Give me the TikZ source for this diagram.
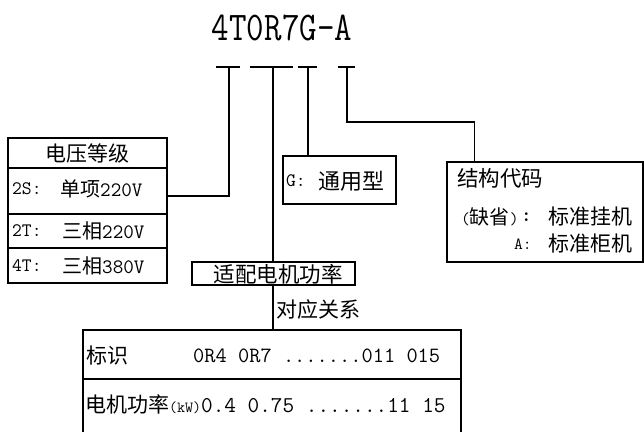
\documentclass[tikz,border=0pt]{standalone}
\usepackage{fontspec}
\newfontfamily\cjkfont{Noto Sans CJK SC}
\newcommand\zh[1]{\cjkfont\fontsize{#1}{#1}\selectfont}
\newcommand\mn[1]{\ttfamily\fontsize{#1}{#1}\selectfont}
\begin{document}
\begin{tikzpicture}[x=1pt,y=-1pt,
  box/.style={draw, line width=1.3pt, inner sep=0pt},
  txt/.style={inner sep=0pt, anchor=west},
  link/.style={line width=1.3pt}]
\useasboundingbox (0,0) rectangle (644,431);
\clip (0,0) rectangle (644,431);

% title and tick marks
\node[inner sep=0pt] (title) at (282,28) {\scalebox{1}[1.2]{\mn{34}4T0R7G-A}};
\coordinate (t1) at (229,67);
\coordinate (t2) at (273,67);
\coordinate (t3) at (308,67);
\coordinate (t4) at (347,67);
\draw[link] ([xshift=-13pt]t1) -- ([xshift=11pt]t1);
\draw[link] ([xshift=-23pt]t2) -- ([xshift=20pt]t2);
\draw[link] ([xshift=-10pt]t3) -- ([xshift=9pt]t3);
\draw[link] ([xshift=-9pt]t4) -- ([xshift=8pt]t4);

% voltage box
\node[box, minimum width=159pt, minimum height=30pt] (vtitle) at (87.5,153) {};
\node[box, minimum width=159pt, minimum height=46pt] (v2s) at (87.5,191) {};
\node[box, minimum width=159pt, minimum height=34pt] (v2t) at (87.5,231) {};
\node[box, minimum width=159pt, minimum height=35pt] (v4t) at (87.5,265.5) {};
\node[inner sep=0pt] (vtt) at (vtitle) {\zh{21}电压等级};
\node[txt] (l2s) at (12,189) {\mn{19}2S:};
\node[txt] (r2s) at (60,189) {\zh{20}单项\mn{20.5}220V};
\node[txt] (l2t) at (12,231) {\mn{19}2T:};
\node[txt] (r2t) at (62,231) {\zh{20}三相\mn{20.5}220V};
\node[txt] (l4t) at (12,266) {\mn{19}4T:};
\node[txt] (r4t) at (62,266) {\zh{20}三相\mn{20.5}380V};

% G box
\node[box, minimum width=113pt, minimum height=48pt] (gbox) at (339.5,180) {};
\node[txt] (gl) at (286,181) {\mn{19}G:};
\node[txt] (gr) at (318,181) {\zh{22}通用型};

% structure box
\node[box, minimum width=196pt, minimum height=100pt] (sbox) at (545,212) {};
\node[txt] (s1) at (457,178) {\zh{21.5}结构代码};
\node[txt] (s2) at (461,217) {\mn{17}(\zh{20}缺省\mn{17})};
\node[txt] (s2c) at (521,217) {\ttfamily\bfseries\fontsize{20}{20}\selectfont :};
\node[txt] (s2r) at (548,217) {\zh{21}标准挂机};
\node[txt] (s3) at (514,244) {\mn{17}A:};
\node[txt] (s3r) at (548,244) {\zh{21}标准柜机};

% motor power box
\node[box, minimum width=163pt, minimum height=23pt] (pbox) at (273.5,273.5) {};
\node[inner sep=0pt] (pt) at (278,274) {\zh{21.5}适配电机功率};
\node[txt] (rel) at (276,310) {\zh{21}对应关系};

% table
\node[box, minimum width=378pt, minimum height=49pt] (trow1) at (272,354.5) {};
\node[box, minimum width=378pt, minimum height=61pt] (trow2) at (272,409.5) {};
\node[txt] (a1) at (86,356) {\zh{21}标识};
\node[txt] (a2) at (193,356) {\mn{21.8}0R4 0R7 .......011 015};
\node[txt] (b1) at (85,404) {\zh{21}电机功率\mn{15.5}(kW)\mn{22.6}0.4 0.75 .......11 15};

% connectors
\draw[link] (t1) |- ([yshift=-5pt]v2s.east);
\draw[link] (t2) -- (t2 |- pbox.north);
\draw[link] (t2 |- pbox.south) -- (t2 |- trow1.north);
\draw[link] (t3) -- (t3 |- gbox.north);
\draw[link] (t4) -- ++(0,55) -| ([xshift=28pt]sbox.north west);
\end{tikzpicture}
\end{document}
